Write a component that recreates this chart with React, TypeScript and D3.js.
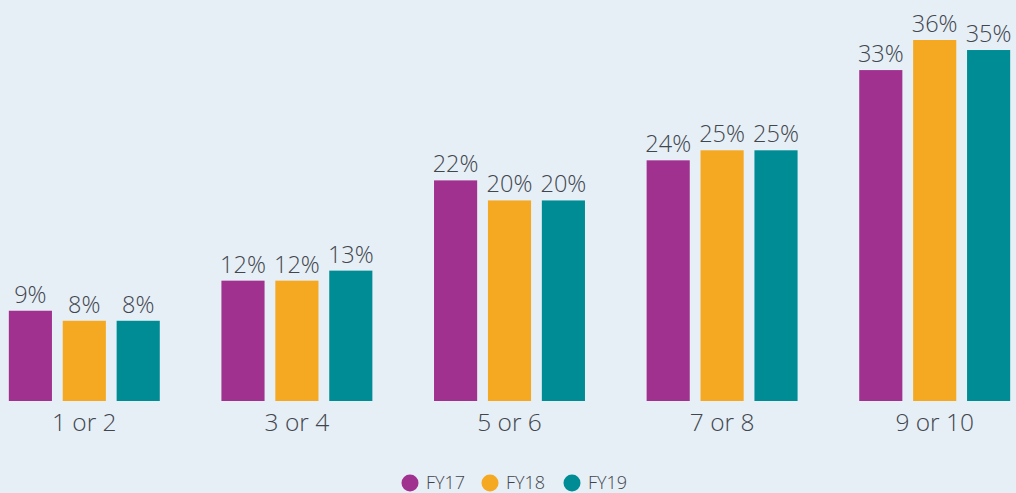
import React, { useRef, useEffect } from 'react';
import * as d3 from 'd3';

const categories = ['1 or 2', '3 or 4', '5 or 6', '7 or 8', '9 or 10'];
const seriesNames = ['FY17', 'FY18', 'FY19'];
const fy17 = [9, 12, 22, 24, 33];
const fy18 = [8, 12, 20, 25, 36];
const fy19 = [8, 13, 20, 25, 35];
const colors = ['#A0318F', '#F5A822', '#008C94'];

const W = 1016;
const H = 493;

const App = () => {
  const svgRef = useRef(null);

  useEffect(() => {
    document.body.style.margin = '0';
    const svg = d3.select(svgRef.current);
    svg.selectAll('*').remove();

    const font = '"Open Sans", Lato, sans-serif';
    const textColor = '#41464D';
    const values = [fy17, fy18, fy19];

    svg.append('rect').attr('width', W).attr('height', H).attr('fill', '#E6EEF6');

    const x0 = d3.scaleBand()
      .domain(categories)
      .range([-22, 1041])
      .paddingInner(0.29)
      .paddingOuter(0.145);

    const x1 = d3.scaleBand()
      .domain(seriesNames)
      .range([0, x0.bandwidth()])
      .paddingInner(0.2);

    const y = d3.scaleLinear().domain([0, 36]).range([401, 40]);

    const g = svg.append('g');

    categories.forEach((cat, ci) => {
      const gg = g.append('g').attr('transform', `translate(${x0(cat)},0)`);
      seriesNames.forEach((s, si) => {
        const v = values[si][ci];
        gg.append('rect')
          .attr('x', x1(s))
          .attr('y', y(v))
          .attr('width', x1.bandwidth())
          .attr('height', y(0) - y(v))
          .attr('fill', colors[si]);
        gg.append('text')
          .attr('x', x1(s) + x1.bandwidth() / 2)
          .attr('y', y(v) - 8)
          .attr('text-anchor', 'middle')
          .attr('font-family', font)
          .attr('font-weight', 300)
          .attr('font-size', 23.5)
          .attr('fill', textColor)
          .text(`${v}%`);
      });
      svg.append('text')
        .attr('x', x0(cat) + x0.bandwidth() / 2)
        .attr('y', 431)
        .attr('text-anchor', 'middle')
        .attr('font-family', font)
        .attr('font-weight', 300)
        .attr('font-size', 24.5)
        .attr('fill', textColor)
        .text(cat);
    });

    // legend
    const legendX = [410, 490, 572];
    seriesNames.forEach((s, i) => {
      svg.append('circle')
        .attr('cx', legendX[i])
        .attr('cy', 483)
        .attr('r', 8.5)
        .attr('fill', colors[i]);
      svg.append('text')
        .attr('x', legendX[i] + 16)
        .attr('y', 489)
        .attr('font-family', font)
        .attr('font-weight', 300)
        .attr('font-size', 18)
        .attr('fill', textColor)
        .text(s);
    });
  }, []);

  return <svg ref={svgRef} width={W} height={H} style={{ display: 'block' }}></svg>;
};

export default App;
